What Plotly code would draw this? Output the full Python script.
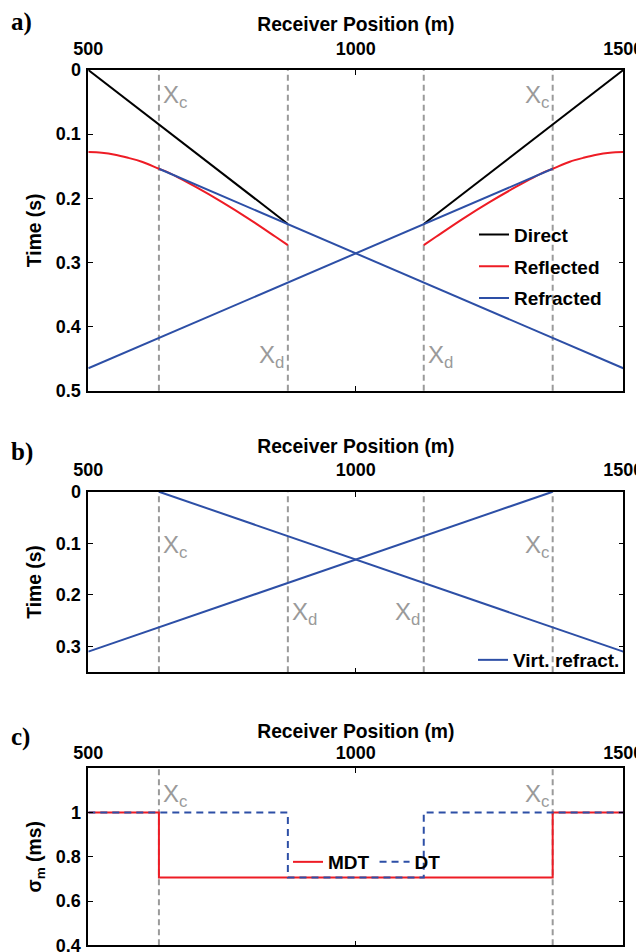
import plotly.graph_objects as go

# ---------------- data ----------------
X_C = [632, 1368]          # critical distances
X_D = [873, 1127]          # crossover distances

# panel a
direct_left_x = [500, 873]
direct_left_t = [0.0, 0.240]
direct_right_x = [1127, 1500]
direct_right_t = [0.240, 0.0]

refl_left_x = [500, 525, 550, 575, 600, 632, 650, 700, 750, 800, 850, 873]
refl_left_t = [0.128, 0.129, 0.132, 0.137, 0.143, 0.154, 0.160, 0.182, 0.206, 0.232, 0.260, 0.273]
refl_right_x = [1127, 1150, 1200, 1250, 1300, 1350, 1368, 1400, 1425, 1450, 1475, 1500]
refl_right_t = [0.273, 0.260, 0.232, 0.206, 0.182, 0.160, 0.154, 0.143, 0.137, 0.132, 0.129, 0.128]

refr_left_x = [632, 1500]
refr_left_t = [0.154, 0.465]
refr_right_x = [500, 1368]
refr_right_t = [0.465, 0.154]

# panel b
virt_left_x = [632, 1500]
virt_left_t = [0.0, 0.31]
virt_right_x = [500, 1368]
virt_right_t = [0.31, 0.0]

# panel c
mdt_x = [500, 632, 1368, 1500]
mdt_s = [1.0, 0.707, 1.0, 1.0]
dt_x = [500, 873, 1127, 1500]
dt_s = [1.0, 0.707, 1.0, 1.0]

x_ticks = [500, 1000, 1500]
ya_ticks = [0, 0.1, 0.2, 0.3, 0.4, 0.5]
yb_ticks = [0, 0.1, 0.2, 0.3]
yc_ticks = [0.4, 0.6, 0.8, 1.0]
yc_labels = ["0.4", "0.6", "0.8", "1"]

# ---------------- style ----------------
OFF = 8                      # default page body margin
W, H = 644 - OFF, 952 - OFF
BLACK = "#000000"
RED = "#ee1c25"
BLUE = "#2d4fa6"
GRAY = "#9a9a9a"
SANS = "Liberation Sans"
TICKFONT = dict(family=SANS, size=18, color="black", weight="bold")
TITLEFONT = dict(family=SANS, size=19.3, color="black", weight="bold")


def px_x(p):
    return (p - OFF) / W


def px_y(p):
    return 1 - (p - OFF) / H


xdom = [px_x(88.3), px_x(623.3)]
doms = {
    "a": [px_y(390.7), px_y(70.0)],
    "b": [px_y(672.3), px_y(491.7)],
    "c": [px_y(945.3), px_y(768.3)],
}

fig = go.Figure()

# panel a traces
fig.add_trace(go.Scatter(x=direct_left_x, y=direct_left_t, mode="lines", line=dict(color=BLACK, width=2),
                         name="Direct", xaxis="x", yaxis="y", legend="legend", legendgroup="d"))
fig.add_trace(go.Scatter(x=direct_right_x, y=direct_right_t, mode="lines", line=dict(color=BLACK, width=2),
                         name="Direct", showlegend=False, xaxis="x", yaxis="y", legendgroup="d"))
fig.add_trace(go.Scatter(x=refl_left_x, y=refl_left_t, mode="lines", line=dict(color=RED, width=2, shape="spline"),
                         name="Reflected", xaxis="x", yaxis="y", legend="legend", legendgroup="r"))
fig.add_trace(go.Scatter(x=refl_right_x, y=refl_right_t, mode="lines", line=dict(color=RED, width=2, shape="spline"),
                         name="Reflected", showlegend=False, xaxis="x", yaxis="y", legendgroup="r"))
fig.add_trace(go.Scatter(x=refr_left_x, y=refr_left_t, mode="lines", line=dict(color=BLUE, width=2),
                         name="Refracted", xaxis="x", yaxis="y", legend="legend", legendgroup="f"))
fig.add_trace(go.Scatter(x=refr_right_x, y=refr_right_t, mode="lines", line=dict(color=BLUE, width=2),
                         name="Refracted", showlegend=False, xaxis="x", yaxis="y", legendgroup="f"))

# panel b traces
fig.add_trace(go.Scatter(x=virt_left_x, y=virt_left_t, mode="lines", line=dict(color=BLUE, width=2),
                         name="Virt. refract.", xaxis="x2", yaxis="y2", legend="legend2", legendgroup="v"))
fig.add_trace(go.Scatter(x=virt_right_x, y=virt_right_t, mode="lines", line=dict(color=BLUE, width=2),
                         name="Virt. refract.", showlegend=False, xaxis="x2", yaxis="y2", legendgroup="v"))

# panel c traces
fig.add_trace(go.Scatter(x=mdt_x, y=mdt_s, mode="lines", line=dict(color=RED, width=2, shape="hv"),
                         name="MDT", xaxis="x3", yaxis="y3", legend="legend3"))
fig.add_trace(go.Scatter(x=dt_x, y=dt_s, mode="lines", line=dict(color=BLUE, width=2, shape="hv", dash="7px,5px"),
                         name="DT", xaxis="x3", yaxis="y3", legend="legend3"))

# vertical dashed marker lines
for xref, yref, xs in [("x", "y", X_C + X_D), ("x2", "y2", X_C + X_D), ("x3", "y3", X_C)]:
    for xv in xs:
        fig.add_shape(type="line", xref=xref, yref=yref + " domain", x0=xv, x1=xv, y0=0, y1=1,
                      line=dict(color=GRAY, width=2, dash="6px,4px"), layer="below")


def xaxis_cfg(anchor, standoff, tstand):
    return dict(domain=xdom, range=[500, 1500], side="top", anchor=anchor, automargin=False,
                tickvals=x_ticks, ticktext=[str(v) for v in x_ticks],
                ticks="inside", ticklen=5, tickwidth=1.2, tickcolor="black",
                showline=True, linecolor="black", linewidth=1.6, mirror="ticks",
                showgrid=False, zeroline=False, tickfont=TICKFONT, ticklabelstandoff=standoff,
                ticklabeloverflow="allow",
                title=dict(text="Receiver Position (m)", font=TITLEFONT, standoff=tstand))


def yaxis_cfg(dom_key, anchor, rng, tv, tt, title):
    return dict(domain=doms[dom_key], range=rng, anchor=anchor, automargin=False,
                tickvals=tv, ticktext=tt,
                ticks="inside", ticklen=5, tickwidth=1.2, tickcolor="black",
                showline=True, linecolor="black", linewidth=1.6, mirror="ticks",
                showgrid=False, zeroline=False, tickfont=TICKFONT, ticklabelstandoff=2,
                ticklabeloverflow="allow",
                title=dict(text=title, font=TITLEFONT, standoff=9))


ya = yaxis_cfg("a", "x", [0.5, 0], ya_ticks, ["0", "0.1", "0.2", "0.3", "0.4", "0.5"], "Time (s)")
yb = yaxis_cfg("b", "x2", [0.35, 0], yb_ticks, ["0", "0.1", "0.2", "0.3"], "Time (s)")
yc = yaxis_cfg("c", "x3", [0.4, 1.2], yc_ticks, yc_labels, "σ<sub>m</sub> (ms)")

LEGFONT = dict(family=SANS, size=19, color="black", weight="bold")

fig.update_layout(
    width=W, height=H, autosize=False,
    margin=dict(l=0, r=0, t=0, b=0),
    paper_bgcolor="white", plot_bgcolor="white",
    xaxis=xaxis_cfg("y", 6, 2),
    yaxis=ya,
    xaxis2=xaxis_cfg("y2", 7, 1),
    yaxis2=yb,
    xaxis3=xaxis_cfg("y3", 0, 0),
    yaxis3=yc,
    legend=dict(x=px_x(474), y=px_y(266.7), xanchor="left", yanchor="middle",
                bgcolor="rgba(0,0,0,0)", borderwidth=0, font=LEGFONT,
                traceorder="grouped", tracegroupgap=4, itemwidth=30),
    legend2=dict(x=px_x(473), y=px_y(660), xanchor="left", yanchor="middle",
                 bgcolor="rgba(0,0,0,0)", borderwidth=0, font=LEGFONT, itemwidth=30),
    legend3=dict(x=px_x(288), y=px_y(862), xanchor="left", yanchor="middle", orientation="h",
                 bgcolor="rgba(0,0,0,0)", borderwidth=0, font=LEGFONT, itemwidth=30),
    showlegend=True,
)

# X_c / X_d labels
MARKFONT = dict(family=SANS, size=24, color=GRAY)
ann = []
# panel a
ann.append(dict(x=X_C[0], y=0.042, xref="x", yref="y", text="X<sub>c</sub>", xanchor="left", xshift=2))
ann.append(dict(x=X_C[1], y=0.042, xref="x", yref="y", text="X<sub>c</sub>", xanchor="right", xshift=-2))
ann.append(dict(x=X_D[0], y=0.447, xref="x", yref="y", text="X<sub>d</sub>", xanchor="right", xshift=-2))
ann.append(dict(x=X_D[1], y=0.447, xref="x", yref="y", text="X<sub>d</sub>", xanchor="left", xshift=2))
# panel b
ann.append(dict(x=X_C[0], y=0.107, xref="x2", yref="y2", text="X<sub>c</sub>", xanchor="left", xshift=2))
ann.append(dict(x=X_C[1], y=0.107, xref="x2", yref="y2", text="X<sub>c</sub>", xanchor="right", xshift=-2))
ann.append(dict(x=X_D[0], y=0.237, xref="x2", yref="y2", text="X<sub>d</sub>", xanchor="left", xshift=2))
ann.append(dict(x=X_D[1], y=0.237, xref="x2", yref="y2", text="X<sub>d</sub>", xanchor="right", xshift=-2))
# panel c
ann.append(dict(x=X_C[0], y=1.075, xref="x3", yref="y3", text="X<sub>c</sub>", xanchor="left", xshift=2))
ann.append(dict(x=X_C[1], y=1.075, xref="x3", yref="y3", text="X<sub>c</sub>", xanchor="right", xshift=-2))
for a in ann:
    a.update(showarrow=False, font=MARKFONT, yanchor="middle")
    fig.add_annotation(**a)

# panel letters
PANELFONT = dict(family="Liberation Serif", size=25, color="black", weight="bold")
for lab, ypx in [("a)", 22), ("b)", 452), ("c)", 737)]:
    fig.add_annotation(x=px_x(9), y=px_y(ypx), xref="paper", yref="paper", text=lab,
                       showarrow=False, xanchor="left", yanchor="middle", font=PANELFONT)

fig.write_html("out.html")
